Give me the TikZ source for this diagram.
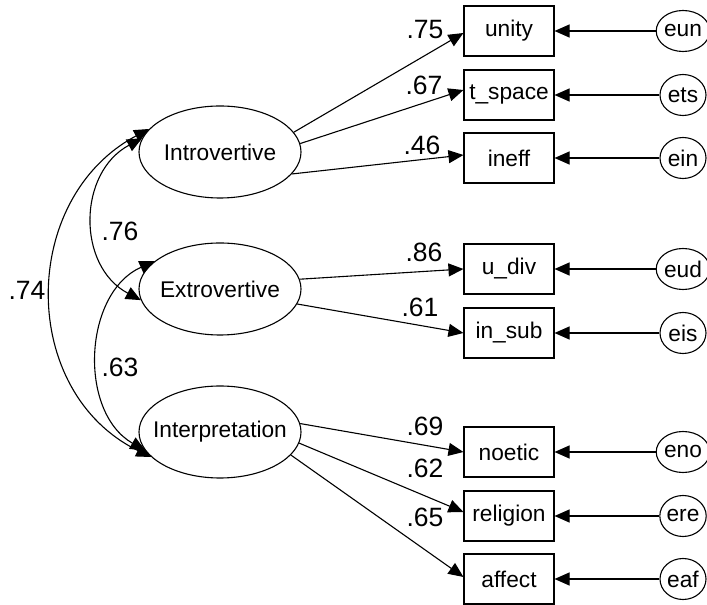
\documentclass[tikz,border=0pt]{standalone}
\usepackage{fontspec}
\setmainfont{Liberation Sans}
\usetikzlibrary{arrows.meta,shapes.geometric}
\begin{document}
\begin{tikzpicture}[x=1pt,y=1pt,
  nodefont/.style={font=\fontsize{22.7}{27}\selectfont},
  latent/.style={ellipse,draw,line width=1.1pt,minimum width=162pt,minimum height=92pt,inner sep=0pt},
  latlabel/.style={nodefont,inner sep=0pt},
  obs/.style={rectangle,draw,line width=1.1pt,minimum width=90pt,minimum height=50pt,inner sep=0pt,nodefont},
  errnode/.style={ellipse,draw,line width=1.1pt,minimum width=46pt,minimum height=41pt,inner sep=0pt,nodefont},
  loadarrow/.style={line width=1.1pt,-{Triangle[length=15pt,width=13pt]}},
  covarrow/.style={line width=1.1pt,{Triangle[length=15pt,width=13pt]}-{Triangle[length=15pt,width=13pt]}},
  coef/.style={font=\fontsize{26.5}{30}\selectfont,inner sep=0pt}
]
\useasboundingbox (0,0) rectangle (707,605);

% latent variables
\node[latent,label={[latlabel]center:Introvertive}] (intro) at (220,453) {};
\node[latent,label={[latlabel]center:Extrovertive}] (extro) at (220,316) {};
\node[latent,label={[latlabel]center:Interpretation}] (inter) at (220,173) {};

% observed variables
\node[obs] (unity)    at (509,574) {unity};
\node[obs] (tspace)   at (509,510) {t\_space};
\node[obs] (ineff)    at (509,447) {ineff};
\node[obs] (udiv)     at (509,336) {u\_div};
\node[obs] (insub)    at (509,272) {in\_sub};
\node[obs] (noetic)   at (509,153) {noetic};
\node[obs] (religion) at (509,89)  {religion};
\node[obs] (affect)   at (509,26)  {affect};

% error terms
\node[errnode] (eun) at (683,574) {eun};
\node[errnode] (ets) at (683,510) {ets};
\node[errnode] (ein) at (683,447) {ein};
\node[errnode] (eud) at (683,336) {eud};
\node[errnode] (eis) at (683,272) {eis};
\node[errnode] (eno) at (683,153) {eno};
\node[errnode] (ere) at (683,89)  {ere};
\node[errnode] (eaf) at (683,26)  {eaf};

% loadings
\draw[loadarrow] (intro.15)  -- ([yshift=-2pt]unity.west);
\draw[loadarrow] (intro.6)   -- ([yshift=5pt]tspace.west);
\draw[loadarrow] (intro.-17) -- ([yshift=3pt]ineff.west);
\draw[loadarrow] (extro.7)   -- (udiv.west);
\draw[loadarrow] (extro.-11) -- (insub.west);
\draw[loadarrow] (inter.6)   -- (noetic.west);
\draw[loadarrow] (inter.-8)  -- ([yshift=4pt]religion.west);
\draw[loadarrow] (inter.-18) -- ([yshift=2pt]affect.west);

% errors
\draw[loadarrow] (eun.west) -- (unity.east);
\draw[loadarrow] (ets.west) -- (tspace.east);
\draw[loadarrow] (ein.west) -- (ineff.east);
\draw[loadarrow] (eud.west) -- (udiv.east);
\draw[loadarrow] (eis.west) -- (insub.east);
\draw[loadarrow] (eno.west) -- (noetic.east);
\draw[loadarrow] (ere.west) -- (religion.east);
\draw[loadarrow] (eaf.west) -- (affect.east);

% covariances
\draw[covarrow] (intro.162) to[out=208,in=154,looseness=1.15] (inter.200);
\draw[covarrow] (intro.170) to[out=208,in=152,looseness=1.15] (extro.188);
\draw[covarrow] (extro.157) to[out=204,in=150,looseness=1.05] (inter.194);

% coefficients
\node[coef] (c75) at (425,575) {.75};
\node[coef] (c67) at (424,520) {.67};
\node[coef] (c46) at (422,460) {.46};
\node[coef] (c86) at (424,353) {.86};
\node[coef] (c61) at (420,298) {.61};
\node[coef] (c69) at (425,179) {.69};
\node[coef] (c62) at (425,137) {.62};
\node[coef] (c65) at (425,88)  {.65};
\node[coef] (c74) at (27,315)  {.74};
\node[coef] (c76) at (120,374) {.76};
\node[coef] (c63) at (120,238) {.63};
\end{tikzpicture}
\end{document}
